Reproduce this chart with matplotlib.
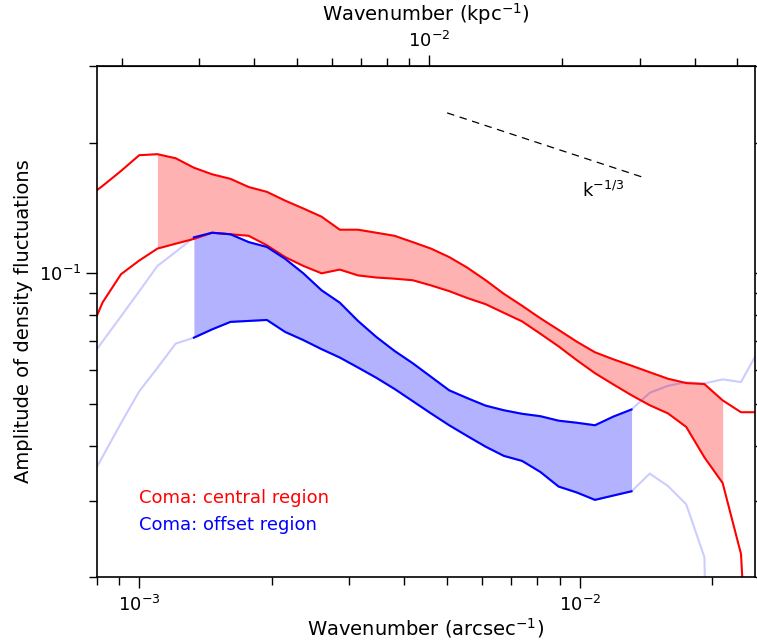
import numpy as np
import matplotlib
matplotlib.use("Agg")
import matplotlib.pyplot as plt
from matplotlib.ticker import FixedLocator

# wavenumber bins, arcsec^-1
k = np.array([7.513e-4, 8.264e-4, 9.091e-4, 1.000e-3, 1.100e-3, 1.210e-3,
              1.331e-3, 1.464e-3, 1.611e-3, 1.772e-3, 1.949e-3, 2.144e-3,
              2.358e-3, 2.594e-3, 2.853e-3, 3.138e-3, 3.452e-3, 3.797e-3,
              4.177e-3, 4.595e-3, 5.054e-3, 5.560e-3, 6.116e-3, 6.727e-3,
              7.400e-3, 8.140e-3, 8.954e-3, 9.850e-3, 1.083e-2, 1.192e-2,
              1.311e-2, 1.442e-2, 1.586e-2, 1.745e-2, 1.919e-2, 2.111e-2,
              2.323e-2, 2.555e-2])

# central region: upper / lower edge of the amplitude band
central_hi = np.array([0.148, 0.159, 0.172, 0.187, 0.188, 0.184, 0.175, 0.169,
                       0.165, 0.158, 0.154, 0.147, 0.141, 0.135, 0.126, 0.126,
                       0.124, 0.122, 0.118, 0.114, 0.109, 0.103, 0.0964, 0.0897,
                       0.0842, 0.0788, 0.0741, 0.0696, 0.0658, 0.0634, 0.0613,
                       0.0592, 0.0572, 0.0559, 0.0556, 0.0510, 0.0479, 0.0479])
central_lo = np.array([0.0687, 0.0858, 0.0995, 0.107, 0.114, 0.117, 0.120, 0.124,
                       0.123, 0.122, 0.116, 0.109, 0.104, 0.100, 0.102, 0.0989,
                       0.0978, 0.0972, 0.0964, 0.0938, 0.0910, 0.0877, 0.0849,
                       0.0811, 0.0775, 0.0726, 0.0679, 0.0631, 0.0589, 0.0555,
                       0.0524, 0.0497, 0.0476, 0.0443, 0.0377, 0.0329, 0.0226,
                       0.004])

# offset region
offset_hi = np.array([0.0611, 0.0698, 0.0796, 0.0909, 0.104, 0.112, 0.121, 0.124,
                      0.123, 0.118, 0.115, 0.108, 0.100, 0.0914, 0.0856, 0.0777,
                      0.0714, 0.0663, 0.0621, 0.0578, 0.0538, 0.0516, 0.0496,
                      0.0484, 0.0475, 0.0469, 0.0458, 0.0453, 0.0447, 0.0468,
                      0.0486, 0.0531, 0.0551, 0.0562, 0.0558, 0.0570, 0.0562,
                      0.0669])
offset_lo = np.array([0.0318, 0.0379, 0.0452, 0.0535, 0.0606, 0.0689, 0.0711,
                      0.0743, 0.0773, 0.0777, 0.0781, 0.0733, 0.0702, 0.0669,
                      0.0640, 0.0607, 0.0575, 0.0542, 0.0508, 0.0476, 0.0447,
                      0.0422, 0.0399, 0.0380, 0.0370, 0.0349, 0.0323, 0.0313,
                      0.0301, 0.0308, 0.0315, 0.0346, 0.0324, 0.0294, 0.0222,
                      1e-4, 1e-4, 1e-4])

# bins used for the shaded bands
central_band = slice(4, 36)
offset_band = slice(6, 31)

kpc_per_arcsec = 0.456

# k^-1/3 reference slope
slope_k = np.array([5.0e-3, 1.4e-2])
slope_amp = 0.234

fig = plt.figure(figsize=(7.57, 6.44), dpi=100)
ax = fig.add_axes([0.1275, 0.104, 0.8699, 0.7935])
ax.set_xscale('log')
ax.set_yscale('log')

ax.fill_between(k[central_band], central_lo[central_band], central_hi[central_band],
                color='red', alpha=0.3, lw=0)
ax.fill_between(k[offset_band], offset_lo[offset_band], offset_hi[offset_band],
                color='blue', alpha=0.3, lw=0)

ax.plot(k, offset_hi, color='blue', alpha=0.2, lw=1.5)
ax.plot(k, offset_lo, color='blue', alpha=0.2, lw=1.5)
ax.plot(k, central_hi, color='red', lw=1.5)
ax.plot(k, central_lo, color='red', lw=1.5)
ax.plot(k[offset_band], offset_hi[offset_band], color='blue', lw=1.5)
ax.plot(k[offset_band], offset_lo[offset_band], color='blue', lw=1.5)

ax.plot(slope_k, slope_amp * (slope_k / slope_k[0]) ** (-1.0 / 3), color='black',
        lw=0.9, linestyle=(0, (6, 4.5)))
ax.text(0.737, 0.744, 'k$^{-1/3}$', fontsize=13, transform=ax.transAxes)

ax.text(0.065, 0.144, 'Coma: central region', color='red', fontsize=13,
        transform=ax.transAxes)
ax.text(0.065, 0.092, 'Coma: offset region', color='blue', fontsize=13,
        transform=ax.transAxes)

ax.set_xlim(8e-4, 2.5e-2)
ax.set_ylim(0.02, 0.3)
ax.set_xlabel('Wavenumber (arcsec$^{-1}$)', fontsize=14, labelpad=1)
ax.set_ylabel('Amplitude of density fluctuations', fontsize=14, labelpad=4)

for s in ax.spines.values():
    s.set_linewidth(1.2)
ax.tick_params(which='both', direction='out', top=False, right=True, labelsize=13)
ax.tick_params(which='major', length=8, width=1, pad=3)
ax.tick_params(axis='x', which='major', pad=5)
ax.tick_params(which='minor', length=6, width=1)

sec = ax.secondary_xaxis('top', functions=(lambda x: x / kpc_per_arcsec,
                                           lambda x: x * kpc_per_arcsec))
sec.xaxis.set_major_locator(FixedLocator([1e-2]))
sec.xaxis.set_minor_locator(FixedLocator([2e-3, 3e-3, 4e-3, 5e-3, 6e-3, 7e-3, 8e-3,
                                          9e-3, 2e-2, 3e-2, 4e-2, 5e-2]))
sec.set_xlabel('Wavenumber (kpc$^{-1}$)', fontsize=14, labelpad=7)
sec.tick_params(which='both', direction='out', labelsize=13)
sec.tick_params(which='major', length=8, width=1, pad=3)
sec.tick_params(which='minor', length=6, width=1)

fig.savefig('out.png', dpi=100)
